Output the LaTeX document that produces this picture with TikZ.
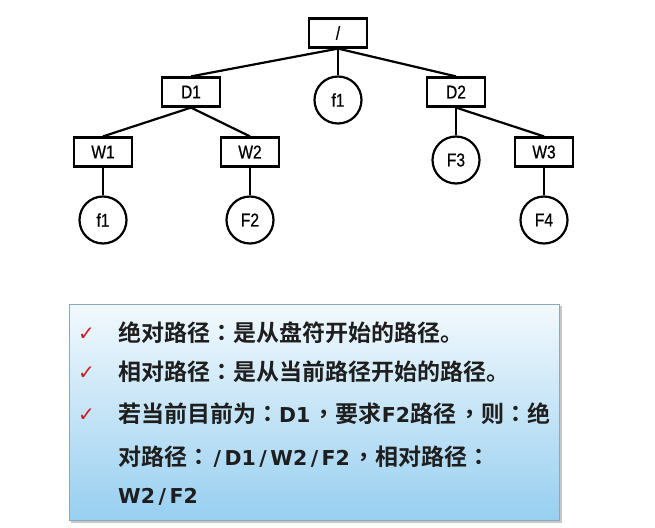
\documentclass[tikz,border=0pt]{standalone}
\usepackage{fontspec}
\setmainfont{Liberation Sans}
\newfontfamily\treefont[FakeStretch=0.84,FakeBold=0.6]{Liberation Sans}
\newfontfamily\cjk[BoldFont={Noto Sans CJK SC Bold}]{Noto Sans CJK SC}
\newfontfamily\cjkp[BoldFont={Noto Sans CJK TC Bold}]{Noto Sans CJK TC}
\newfontfamily\latf{DejaVu Sans}
\newfontfamily\symf{DejaVu Sans}
\definecolor{boxtop}{HTML}{F2F9FD}
\definecolor{boxbot}{HTML}{98CFF0}
\definecolor{boxline}{HTML}{8AA9BE}
\definecolor{txt}{HTML}{1E1E1E}
\definecolor{chk}{HTML}{D01A20}
\tikzset{
  dir/.style={draw=black, line width=2.2pt, fill=white, minimum width=58pt, minimum height=29pt, inner sep=0pt, font=\treefont\fontsize{18.5}{18.5}\selectfont},
  fil/.style={draw=black, line width=2.2pt, fill=white, circle, minimum size=47pt, inner sep=0pt, font=\treefont\fontsize{18.5}{18.5}\selectfont},
  edge/.style={line width=2.2pt, draw=black},
  line/.style={anchor=base west, inner sep=0pt, text=txt, font=\cjk\bfseries\fontsize{23}{23}\selectfont},
  tick/.style={anchor=base west, inner sep=0pt, text=chk, font=\symf\fontsize{20}{20}\selectfont},
}
\newcommand{\lt}[1]{{\latf\bfseries\fontsize{20.5}{20.5}\selectfont #1}}
\newcommand{\sla}{\kern0.17em/\kern0.17em}
\newcommand{\cpu}[1]{{\cjkp\bfseries #1}}
\newcommand{\cpc}{\hspace{0.1em}{\cjkp\bfseries ，}}
\begin{document}
\begin{tikzpicture}[x=1pt,y=-1pt]
\useasboundingbox (0,0) rectangle (655,527);
\fill[white] (0,0) rectangle (655,527);
% tree
\node[dir] (root) at (338,33) {/};
\node[dir] (d1) at (191,92) {D1};
\node[fil] (f1a) at (338,100) {f1};
\node[dir] (d2) at (456,92) {D2};
\node[dir] (w1) at (103,152) {W1};
\node[dir] (w2) at (250,152) {W2};
\node[fil] (f3) at (456,160) {F3};
\node[dir] (w3) at (544,152) {W3};
\node[fil] (f1b) at (103,220) {f1};
\node[fil] (f2) at (250,220) {F2};
\node[fil] (f4) at (544,220) {F4};
\draw[edge] (root.south) -- (d1.north);
\draw[edge] (root.south) -- (f1a.north);
\draw[edge] (root.south) -- (d2.north);
\draw[edge] (d1.south) -- (w1.north);
\draw[edge] (d1.south) -- (w2.north);
\draw[edge] (d2.south) -- (f3.north);
\draw[edge] (d2.south) -- (w3.north);
\draw[edge] (w1.south) -- (f1b.north);
\draw[edge] (w2.south) -- (f2.north);
\draw[edge] (w3.south) -- (f4.north);
% text box
\fill[black!22] (71,306) rectangle (562,523);
\shade[top color=boxtop, bottom color=boxbot] (69,304) rectangle (559,520);
\draw[boxline, line width=0.9pt] (69,304) rectangle (559,520);
\node[tick] (t1) at (78,340) {✓};
\node[tick] (t2) at (78,379) {✓};
\node[tick] (t3) at (78,421) {✓};
\node[line] (l1) at (118,341) {绝对路径\cpu{：}是从盘符开始的路径。};
\node[line] (l2) at (118,380) {相对路径\cpu{：}是从当前路径开始的路径。};
\node[line] (l3) at (118,422) {若当前目前为\cpu{：}\lt{D1}\cpc 要求\lt{F2}路径\cpc 则\cpu{：}绝};
\node[line] (l4) at (118,465) {对路径\cpu{：}\lt{\sla D1\sla W2\sla F2}\cpc 相对路径\cpu{：}};
\node[line] (l5) at (118,503) {\lt{W2\sla F2}};
\end{tikzpicture}
\end{document}
